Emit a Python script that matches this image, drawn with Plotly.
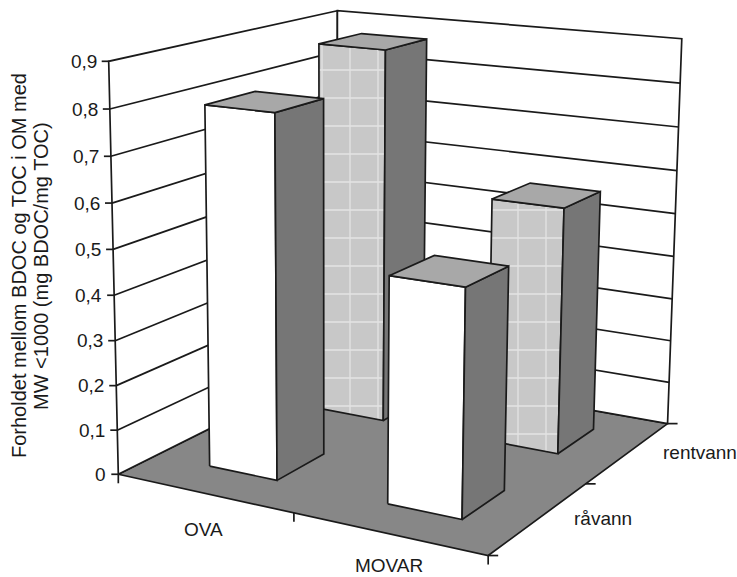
import numpy as np
import plotly.graph_objects as go

# ---- data -------------------------------------------------------------
categories = ["OVA", "MOVAR"]
series_names = ["råvann", "rentvann"]          # front row, back row
raavann = [0.80, 0.49]
rentvann = [0.87, 0.56]
value_ticks = [0, 0.1, 0.2, 0.3, 0.4, 0.5, 0.6, 0.7, 0.8, 0.9]
value_tick_labels = ["0", "0,1", "0,2", "0,3", "0,4", "0,5", "0,6", "0,7", "0,8", "0,9"]
y_title_lines = ["Forholdet mellom BDOC og TOC i OM med",
                 "MW <1000 (mg BDOC/mg TOC)"]

series_values = [raavann, rentvann]

# ---- page / camera ----------------------------------------------------
W, H = 737, 577
NX, NZ = len(categories), len(series_names)
YMAX = value_ticks[-1]

# world coords: X = category slot, Y = value, Z = series depth slot.
# Perspective camera pinned so the chart box corners land on these page pixels.
box_world = [
    (0, 0, 0), (0, YMAX, 0), (0, YMAX / 2 + 0.05, 0), (NX, 0, 0), (NX / 2, 0, 0),
    (NX, 0, NZ / 2), (NX, 0, NZ), (NX, 0.5, NZ), (NX, YMAX, NZ),
    (0, YMAX, NZ), (0, 0, NZ),
]
box_page = [
    (118, 472), (108, 63), (113, 248), (488, 557), (295, 514),
    (586, 483), (667, 423), (675, 213), (682, 39),
    (338, 10), (337, 367),
]


def fit_camera(world, page):
    world = np.asarray(world, float)
    page = np.asarray(page, float)
    mu = page.mean(axis=0)
    s = np.sqrt(2) / np.mean(np.linalg.norm(page - mu, axis=1))
    T = np.array([[s, 0, -s * mu[0]], [0, s, -s * mu[1]], [0, 0, 1]])
    pn = (page - mu) * s
    rows = []
    for (X, Y, Z), (u, v) in zip(world, pn):
        rows.append([X, Y, Z, 1, 0, 0, 0, 0, -u * X, -u * Y, -u * Z, -u])
        rows.append([0, 0, 0, 0, X, Y, Z, 1, -v * X, -v * Y, -v * Z, -v])
    _, _, vt = np.linalg.svd(np.array(rows))
    Pn = vt[-1].reshape(3, 4)
    return np.linalg.inv(T) @ Pn


P = fit_camera(box_world, box_page)


def proj(X, Y, Z):
    h = P @ np.array([X, Y, Z, 1.0])
    return h[0] / h[2], h[1] / h[2]


# ---- styles -----------------------------------------------------------
FONT = "Liberation Sans, Arial, sans-serif"
INK = "#1a1a1a"
FLOOR = "#878787"
SIDE = "#767676"
TOP = "#a8a8a8"
BACK_FRONT = "#c8c8c8"
EDGE_W = 1.7
BAR_W = 0.39      # fraction of category slot
BAR_X = 0.51      # bar centre within its category slot
BAR_D = 0.42      # fraction of depth slot
BAR_Z = 0.52      # bar centre within its depth slot

fig = go.Figure()


def polygon(points, fill, pattern=None, width=EDGE_W):
    uv = [proj(*p) for p in points]
    xs = [q[0] for q in uv] + [uv[0][0]]
    ys = [q[1] for q in uv] + [uv[0][1]]
    fig.add_trace(go.Scatter(
        x=xs, y=ys, mode="lines", fill="toself", fillcolor=fill,
        fillpattern=pattern, line=dict(color=INK, width=width),
        hoverinfo="skip", showlegend=False))


def segments(pairs, width=EDGE_W):
    xs, ys = [], []
    for a, b in pairs:
        xs += [a[0], b[0], None]
        ys += [a[1], b[1], None]
    fig.add_trace(go.Scatter(x=xs, y=ys, mode="lines",
                             line=dict(color=INK, width=width),
                             hoverinfo="skip", showlegend=False))


# floor and walls
polygon([(0, 0, 0), (NX, 0, 0), (NX, 0, NZ), (0, 0, NZ)], FLOOR)
polygon([(0, 0, 0), (0, 0, NZ), (0, YMAX, NZ), (0, YMAX, 0)], "white")
polygon([(0, 0, NZ), (NX, 0, NZ), (NX, YMAX, NZ), (0, YMAX, NZ)], "white")

# gridlines on the side and back walls
grid = []
for v in value_ticks[1:-1]:
    grid.append((proj(0, v, 0), proj(0, v, NZ)))
    grid.append((proj(0, v, NZ), proj(NX, v, NZ)))
segments(grid)

# axis ticks
ticks = []
for v in value_ticks:
    u, w = proj(0, v, 0)
    ticks.append(((u - 7, w), (u, w)))
for i in range(NX + 1):
    u, w = proj(i, 0, 0)
    ticks.append(((u, w), (u, w + 9)))
for k in range(NZ + 1):
    u, w = proj(NX, 0, k)
    ticks.append(((u, w), (u + 10, w)))
segments(ticks)

# bars, painted back row first, left to right
order = sorted(((k, i) for k in range(NZ) for i in range(NX)),
               key=lambda t: (-t[0], t[1]))
for k, i in order:
    v = series_values[k][i]
    x0, x1 = i + BAR_X - BAR_W / 2, i + BAR_X + BAR_W / 2
    z0, z1 = k + BAR_Z - BAR_D / 2, k + BAR_Z + BAR_D / 2
    if k == 0:
        front_fill, pattern = "white", None
    else:
        front_fill = BACK_FRONT
        pattern = dict(shape="+", bgcolor=BACK_FRONT, fgcolor="white",
                       size=28, solidity=0.09)
    polygon([(x0, 0, z0), (x1, 0, z0), (x1, v, z0), (x0, v, z0)],
            front_fill, pattern)
    polygon([(x1, 0, z0), (x1, 0, z1), (x1, v, z1), (x1, v, z0)], SIDE)
    polygon([(x0, v, z0), (x1, v, z0), (x1, v, z1), (x0, v, z1)], TOP)

# ---- text -------------------------------------------------------------
ann = []
for v, lab in zip(value_ticks, value_tick_labels):
    u, w = proj(0, v, 0)
    ann.append(dict(x=u - 10, y=w, text=lab, xanchor="right", yanchor="middle",
                    font=dict(size=19)))
for i, lab in enumerate(categories):
    u, w = proj(i + 0.5, 0, 0)
    ann.append(dict(x=u, y=min(w + 36, H - 12), text=lab, xanchor="center",
                    yanchor="middle", font=dict(size=19)))
for k, lab in enumerate(series_names):
    u, w = proj(NX, 0, k + 0.5)
    ann.append(dict(x=u + 33, y=w, text=lab, xanchor="left", yanchor="middle",
                    font=dict(size=19)))
for j, line in enumerate(y_title_lines):
    ann.append(dict(x=19 + 22 * j, y=266, text=line, textangle=-90,
                    xanchor="center", yanchor="middle", font=dict(size=20)))
for a in ann:
    a["font"].update(family=FONT, color=INK)
    a.update(xref="x", yref="y", showarrow=False)

fig.update_layout(
    width=W, height=H, margin=dict(l=0, r=0, t=0, b=0),
    paper_bgcolor="white", plot_bgcolor="white",
    xaxis=dict(range=[0, W], visible=False, fixedrange=True),
    yaxis=dict(range=[H, 0], visible=False, fixedrange=True),
    annotations=ann, showlegend=False,
)

fig.write_html("out.html")
